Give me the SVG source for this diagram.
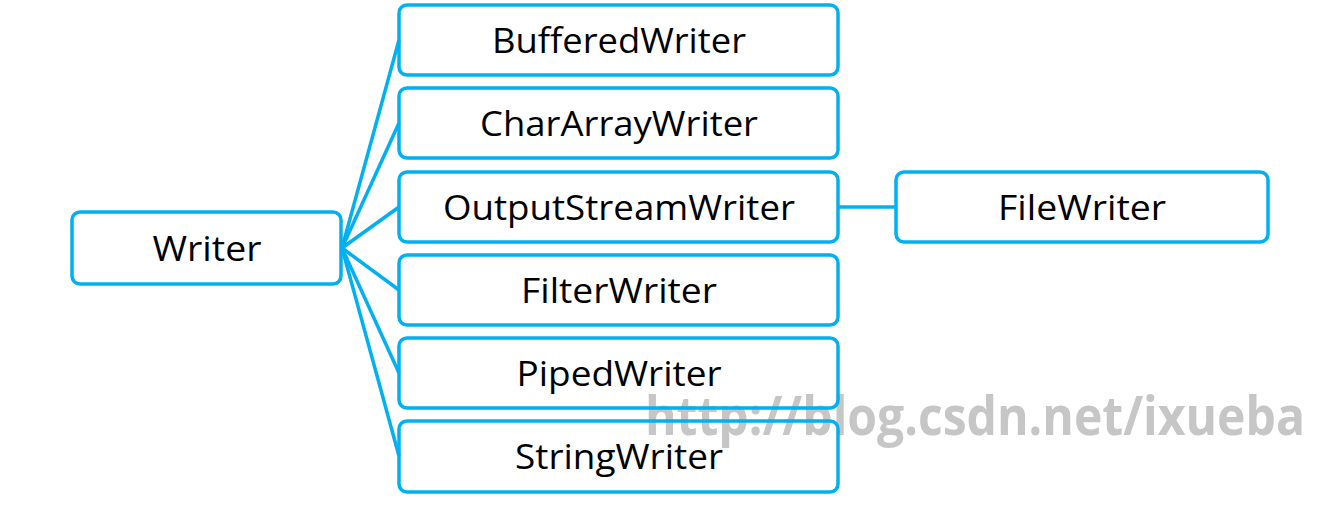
<svg xmlns="http://www.w3.org/2000/svg" width="1341" height="505" viewBox="0 0 1341 505">
<style>
.box{fill:none;stroke:#00b0f0;stroke-width:3.5}
.lbl{font-family:"Open Sans","Liberation Sans",Arial,sans-serif;font-size:35px;fill:#000;text-anchor:middle}
.conn line{stroke:#00b0f0;stroke-width:3.5}
.wm{font-family:"Open Sans","Liberation Sans",Arial,sans-serif;font-weight:bold;font-size:54px;fill:#c6c6c6}
</style>
<rect width="1341" height="505" fill="#fff"/>
<text class="wm" x="645" y="435" textLength="660" lengthAdjust="spacingAndGlyphs">http://blog.csdn.net/ixueba</text>
<g id="connectors" class="conn">
<line x1="342" y1="248" x2="399" y2="40"/>
<line x1="342" y1="248" x2="399" y2="123"/>
<line x1="342" y1="248" x2="399" y2="207"/>
<line x1="342" y1="248" x2="399" y2="290"/>
<line x1="342" y1="248" x2="399" y2="373"/>
<line x1="342" y1="248" x2="399" y2="456"/>
<line x1="838" y1="207" x2="896" y2="207"/>
</g>
<g id="writer"><rect class="box" x="72" y="212" width="269" height="72" rx="8"/><text class="lbl" x="207" y="261" textLength="109" lengthAdjust="spacingAndGlyphs">Writer</text></g>
<g id="bufferedwriter"><rect class="box" x="399" y="5" width="439" height="70" rx="8"/><text class="lbl" x="619" y="53" textLength="254" lengthAdjust="spacingAndGlyphs">BufferedWriter</text></g>
<g id="chararraywriter"><rect class="box" x="399" y="88" width="439" height="70" rx="8"/><text class="lbl" x="619" y="136" textLength="278" lengthAdjust="spacingAndGlyphs">CharArrayWriter</text></g>
<g id="outputstreamwriter"><rect class="box" x="399" y="172" width="439" height="70" rx="8"/><text class="lbl" x="619" y="220" textLength="352" lengthAdjust="spacingAndGlyphs">OutputStreamWriter</text></g>
<g id="filterwriter"><rect class="box" x="399" y="255" width="439" height="70" rx="8"/><text class="lbl" x="619" y="303" textLength="196" lengthAdjust="spacingAndGlyphs">FilterWriter</text></g>
<g id="pipedwriter"><rect class="box" x="399" y="338" width="439" height="70" rx="8"/><text class="lbl" x="619" y="386" textLength="205" lengthAdjust="spacingAndGlyphs">PipedWriter</text></g>
<g id="stringwriter"><rect class="box" x="399" y="421" width="439" height="71" rx="8"/><text class="lbl" x="619" y="469" textLength="208" lengthAdjust="spacingAndGlyphs">StringWriter</text></g>
<g id="filewriter"><rect class="box" x="896" y="172" width="372" height="70" rx="8"/><text class="lbl" x="1082" y="220" textLength="168" lengthAdjust="spacingAndGlyphs">FileWriter</text></g>
</svg>
